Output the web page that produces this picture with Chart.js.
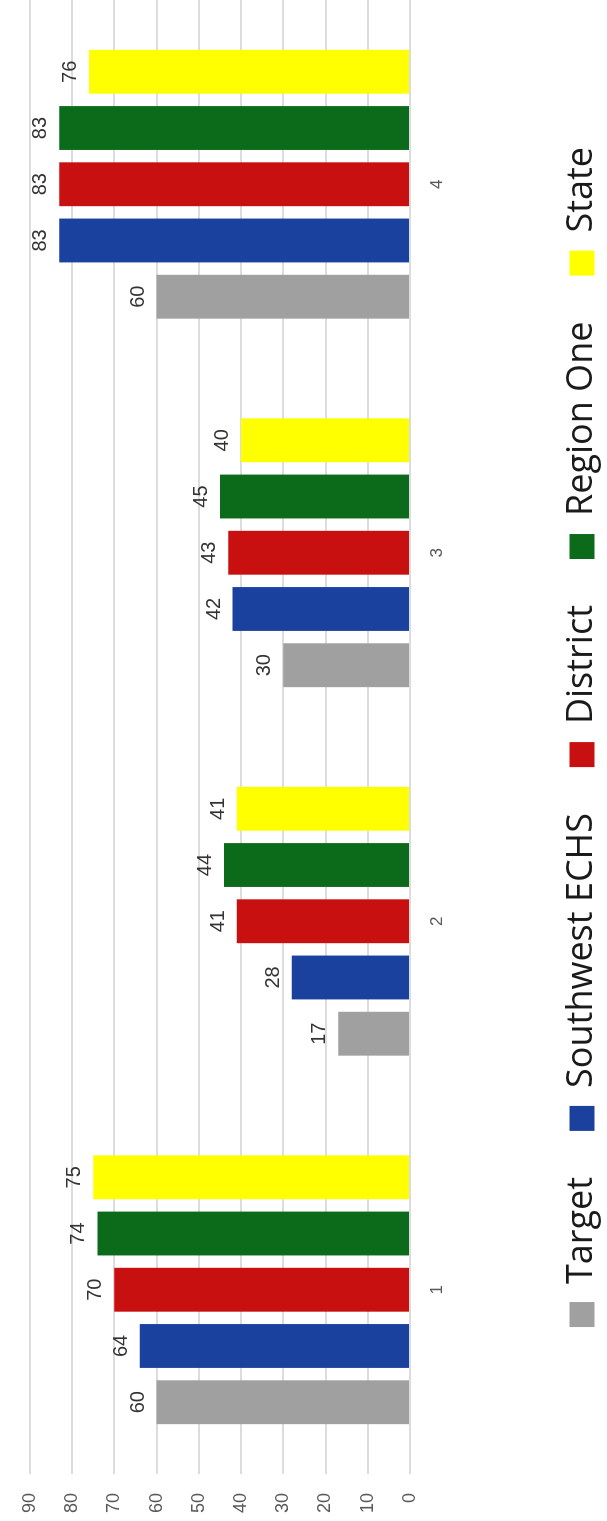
<!DOCTYPE html>
<html>
<head>
<meta charset="utf-8">
<script src="https://cdn.jsdelivr.net/npm/chart.js@4.4.1/dist/chart.umd.min.js"></script>
<style>
  html, body { margin: 0; padding: 0; background: #fff; }
  body { width: 607px; height: 1521px; overflow: hidden; position: relative; }
  /* chart is drawn upright, then turned a quarter to the left like the scan */
  #wrap { position: absolute; left: 0; top: 0; width: 1521px; height: 607px;
          transform-origin: 0 0; transform: translateY(1521px) rotate(-90deg); }
</style>
</head>
<body>
<div id="wrap"><canvas id="canvas" width="1521" height="607"></canvas></div>
<script>
const categories = ['1', '2', '3', '4'];
const seriesNames = ['Target', 'Southwest ECHS', 'District', 'Region One', 'State'];
const targetValues = [60, 17, 30, 60];
const southwestValues = [64, 28, 42, 83];
const districtValues = [70, 41, 43, 83];
const regionValues = [74, 44, 45, 83];
const stateValues = [75, 41, 40, 76];
const seriesColors = ['#a0a0a0', '#1a419e', '#c81010', '#0b6b1b', '#ffff00'];

const allValues = [targetValues, southwestValues, districtValues, regionValues, stateValues];

// numbers above each bar
const barLabels = {
    id: 'barLabels',
    afterDatasetsDraw(chart) {
        const ctx = chart.ctx;
        ctx.save();
        ctx.font = '20px "Liberation Sans"';
        ctx.fillStyle = '#333333';
        ctx.textAlign = 'center';
        ctx.textBaseline = 'alphabetic';
        chart.data.datasets.forEach((ds, i) => {
            chart.getDatasetMeta(i).data.forEach((bar, j) => {
                ctx.fillText(ds.data[j], bar.x, bar.y - 13);
            });
        });
        ctx.restore();
    }
};

const ctx = document.getElementById('canvas').getContext('2d');

new Chart(ctx, {
    type: 'bar',
    data: {
        labels: categories,
        datasets: seriesNames.map((name, i) => ({
            label: name,
            data: allValues[i],
            backgroundColor: seriesColors[i],
            borderWidth: 0,
            categoryPercentage: 0.763,
            barPercentage: 0.78
        }))
    },
    options: {
        responsive: false,
        maintainAspectRatio: false,
        animation: false,
        layout: {
            padding: { left: 0, right: 0, top: 19, bottom: -3 }
        },
        scales: {
            x: {
                grid: { display: false, drawTicks: false },
                border: { display: false },
                ticks: {
                    padding: 17,
                    color: '#595959',
                    font: { family: '"Liberation Sans"', size: 17 }
                },
                afterFit: (scale) => { scale.height = 108; }
            },
            y: {
                min: 0,
                max: 90,
                grid: { color: '#dcdcdc', lineWidth: 2, drawTicks: false },
                border: { display: false },
                ticks: {
                    stepSize: 10,
                    padding: 19,
                    color: '#595959',
                    font: { family: '"Liberation Sans"', size: 18 }
                },
                afterFit: (scale) => { scale.width = 47; }
            }
        },
        plugins: {
            legend: {
                position: 'bottom',
                fullSize: false,
                labels: {
                    boxWidth: 25,
                    boxHeight: 25,
                    padding: 46,
                    color: '#1a1a1a',
                    font: { family: '"Open Sans"', size: 36 }
                }
            },
            tooltip: { enabled: false }
        }
    },
    plugins: [barLabels]
});
</script>
</body>
</html>
